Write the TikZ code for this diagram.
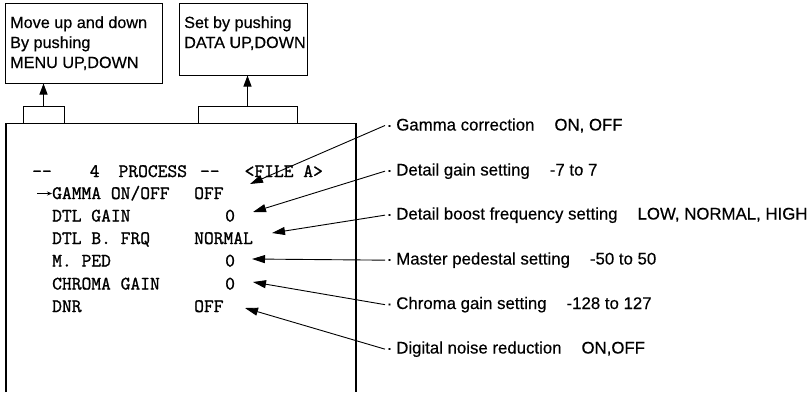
\documentclass[tikz,border=0pt]{standalone}
\usepackage{fontspec}
\setmainfont{Liberation Sans}[FakeBold=0.4]
\newfontfamily\crfont{Latin Modern Mono}[FakeBold=1.2]
\usetikzlibrary{arrows.meta}
\tikzset{
  txt/.style={anchor=base west, inner sep=0pt, font=\fontsize{16.2}{19}\selectfont},
  lbl/.style={anchor=base west, inner xsep=1.5pt, inner ysep=0pt, font=\fontsize{16.8}{19}\selectfont},
  mono/.style={anchor=base west, inner sep=0pt, font=\fontsize{19}{22}\crfont},
  frame/.style={draw, line width=1pt},
  tabbox/.style={draw, line width=1pt, inner sep=0pt},
  upar/.style={line width=1pt, -{Triangle[length=11pt,width=8pt]}},
  lead/.style={line width=0.9pt, -{Triangle[length=13pt,width=8pt]}}
}
\begin{document}
\begin{tikzpicture}[x=1pt,y=-1pt]
\useasboundingbox (0,0) rectangle (812,392);
% top callout boxes
\node[frame, minimum width=157pt, minimum height=80pt, inner sep=0pt] (box1) at (83.5,43) {};
\node[txt] (t1a) at (10,28) {Move up and down};
\node[txt] (t1b) at (10,48) {By pushing};
\node[txt] (t1c) at (10,68) {MENU UP,DOWN};
\node[frame, minimum width=128pt, minimum height=72pt, inner sep=0pt] (box2) at (243,39) {};
\node[txt] (t2a) at (184,28) {Set by pushing};
\node[txt] (t2b) at (184,48) {DATA UP,DOWN};
% tabs
\node[tabbox, minimum width=41pt, minimum height=17pt] (tab1) at (43.5,115) {};
\node[tabbox, minimum width=99pt, minimum height=17pt] (tab2) at (247.5,115) {};
\draw[upar] (tab1.north) -- (tab1.north |- box1.south);
\draw[upar] (tab2.north) -- (tab2.north |- box2.south);
% screen frame
\coordinate (sbl) at (6,392);
\coordinate (stl) at (6,123.5);
\coordinate (str) at (356,123.5);
\coordinate (sbr) at (356,392);
\draw[line width=1.6pt] (sbl) -- (stl) -- (str) -- (sbr);
% header
\node[mono] (hdr) at (32,177) {--\hspace{38pt}4\hspace{19pt}PROCESS\hspace{13pt}--\hspace{25pt}<FILE A>};
% menu rows
\node[mono] (n1) at (52,199) {GAMMA ON/OFF};
\node[mono] (n2) at (52,221.5) {DTL GAIN};
\node[mono] (n3) at (52,244) {DTL B. FRQ};
\node[mono] (n4) at (52,266.5) {M. PED};
\node[mono] (n5) at (52,289.5) {CHROMA GAIN};
\node[mono] (n6) at (52,312) {DNR};
\node[mono] (v1) at (194,199) {OFF};
\node[mono] (v2) at (225,221.5) {0};
\node[mono] (v3) at (194,244) {NORMAL};
\node[mono] (v4) at (225,266.5) {0};
\node[mono] (v5) at (225,289.5) {0};
\node[mono] (v6) at (194,312) {OFF};
\coordinate (cur) at (37,193.5);
\draw[line width=0.8pt, -{Stealth[length=5pt,width=4pt]}] (cur) -- (n1.west |- cur);
% right labels
\node[lbl] (l1) at (385,130.5) {·\hspace{4pt}Gamma correction\hspace{20pt}ON, OFF};
\node[lbl] (l2) at (385,175.5) {·\hspace{4pt}Detail gain setting\hspace{20pt}-7 to 7};
\node[lbl] (l3) at (385,219.5) {·\hspace{4pt}Detail boost frequency setting\hspace{20pt}LOW, NORMAL, HIGH};
\node[lbl] (l4) at (385,264.5) {·\hspace{4pt}Master pedestal setting\hspace{20pt}-50 to 50};
\node[lbl] (l5) at (385,309) {·\hspace{4pt}Chroma gain setting\hspace{20pt}-128 to 127};
\node[lbl] (l6) at (385,353.5) {·\hspace{4pt}Digital noise reduction\hspace{20pt}ON,OFF};
% arrow tips
\coordinate (a1) at (250,184);
\coordinate (a2) at (253,212);
\coordinate (a3) at (272,233);
\coordinate (a4) at (252,259);
\coordinate (a5) at (253,282);
\coordinate (a6) at (245,308);
\draw[lead] (l1.west) -- (a1);
\draw[lead] (l2.west) -- (a2);
\draw[lead] (l3.west) -- (a3);
\draw[lead] (l4.west) -- (a4);
\draw[lead] (l5.west) -- (a5);
\draw[lead] (l6.west) -- (a6);
\end{tikzpicture}
\end{document}
